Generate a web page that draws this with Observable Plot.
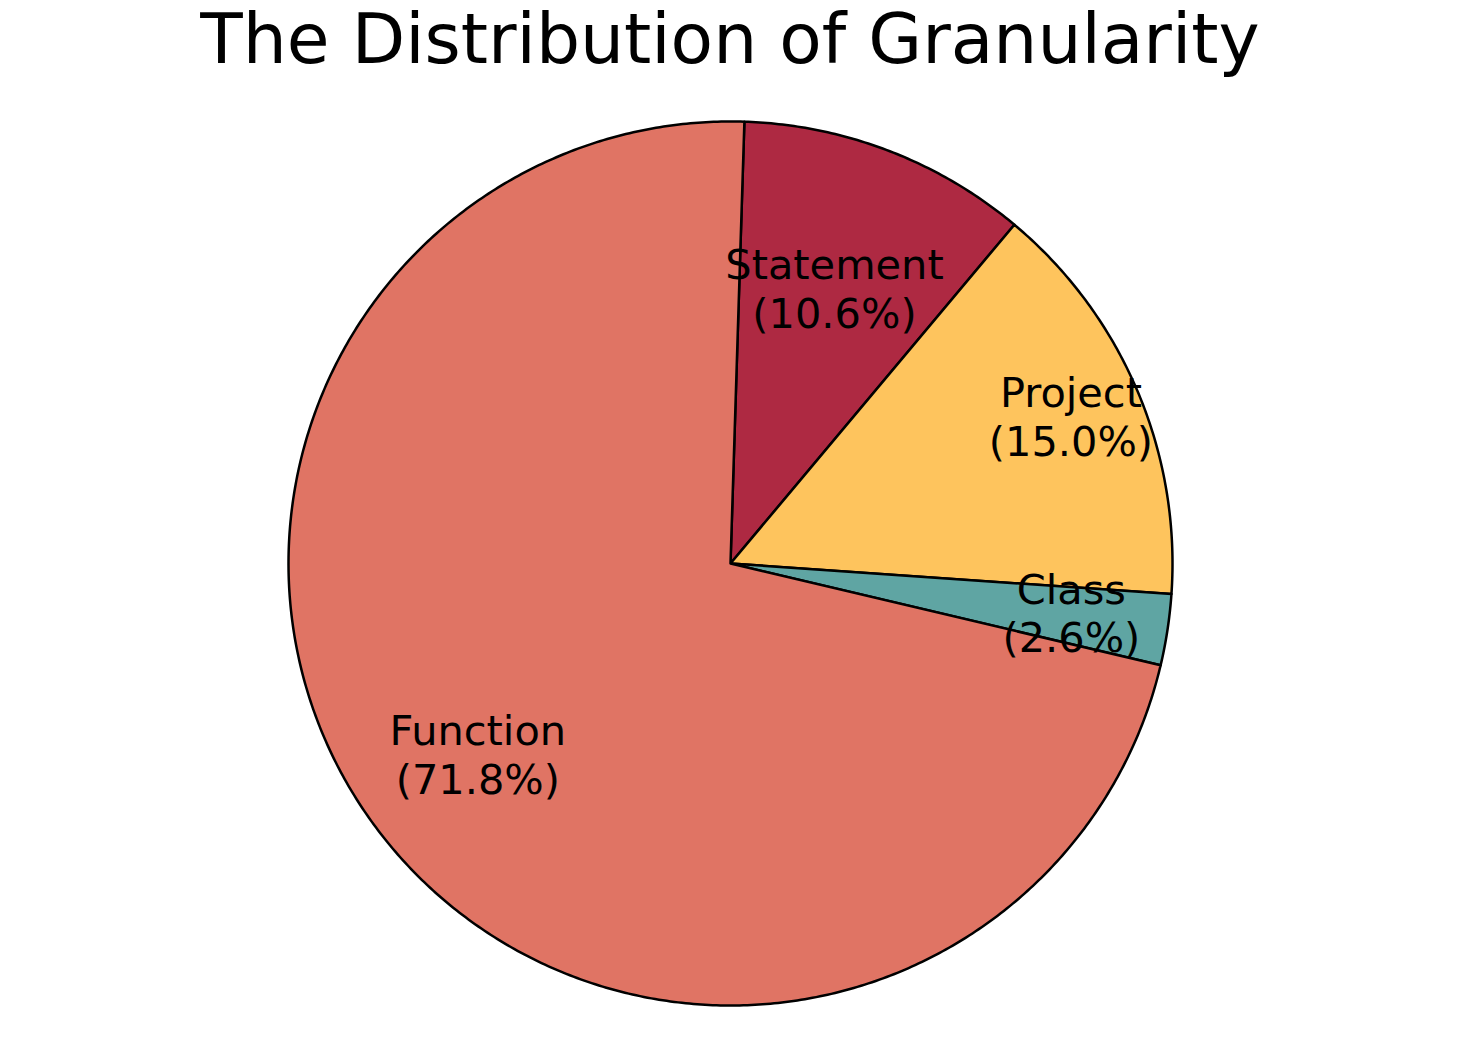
<!DOCTYPE html>
<html>
<head>
<meta charset="utf-8">
<script src="https://cdn.jsdelivr.net/npm/d3@7"></script>
<script src="https://cdn.jsdelivr.net/npm/@observablehq/plot@0.6"></script>
<style>
  html, body { margin: 0; padding: 0; background: white; }
  #title { font-family: "DejaVu Sans", sans-serif; font-size: 69.5px; line-height: 78px; height: 78px; text-align: center; width: 1460px; color: black; white-space: nowrap; }
</style>
</head>
<body>
<div id="title">The Distribution of Granularity</div>
<div id="chart"></div>
<script>
// Data (clockwise order as drawn)
const categories = ["Statement", "Project", "Class", "Function"];
const shares = [10.6, 15.0, 2.6, 71.8];
const colors = ["#AE2942", "#FEC45D", "#5FA5A3", "#E07464"];

// Layout config
const startAngleDeg = 88.2;          // matplotlib-style angle, going clockwise
const labelRadius = [0.66, 0.837, 0.78, 0.72];
const W = 1460, H = 982, R = 442, CX = 730, CY = 485;

const total = d3.sum(shares);
const arcPts = [];
const labels = [];
let a0 = startAngleDeg;
categories.forEach((cat, i) => {
  const span = shares[i] / total * 360;
  const a1 = a0 - span;
  arcPts.push({cat, x: 0, y: 0});
  const n = Math.max(2, Math.ceil(span / 0.5));
  for (let k = 0; k <= n; k++) {
    const a = (a0 + (a1 - a0) * k / n) * Math.PI / 180;
    arcPts.push({cat, x: Math.cos(a), y: Math.sin(a)});
  }
  const mid = ((a0 + a1) / 2) * Math.PI / 180;
  labels.push({
    cat,
    text: `${cat}\n(${shares[i].toFixed(1)}%)`,
    x: labelRadius[i] * Math.cos(mid),
    y: labelRadius[i] * Math.sin(mid)
  });
  a0 = a1;
});

const chart = Plot.plot({
  width: W,
  height: H,
  margin: 0,
  x: {domain: [-CX / R, (W - CX) / R], axis: null},
  y: {domain: [-(H - CY) / R, CY / R], axis: null},
  color: {domain: categories, range: colors},
  style: {fontFamily: "DejaVu Sans, sans-serif", background: "white", overflow: "visible"},
  marks: [
    Plot.line(arcPts, {x: "x", y: "y", z: "cat", fill: "cat", stroke: "black", strokeWidth: 2.5, curve: "linear-closed", strokeLinejoin: "round"}),
    Plot.text(labels, {x: "x", y: "y", text: "text", fontSize: 41.5, lineHeight: 1.17, lineAnchor: "middle", dy: -3, fill: "black"})
  ]
});
document.getElementById("chart").appendChild(chart);
</script>
</body>
</html>
